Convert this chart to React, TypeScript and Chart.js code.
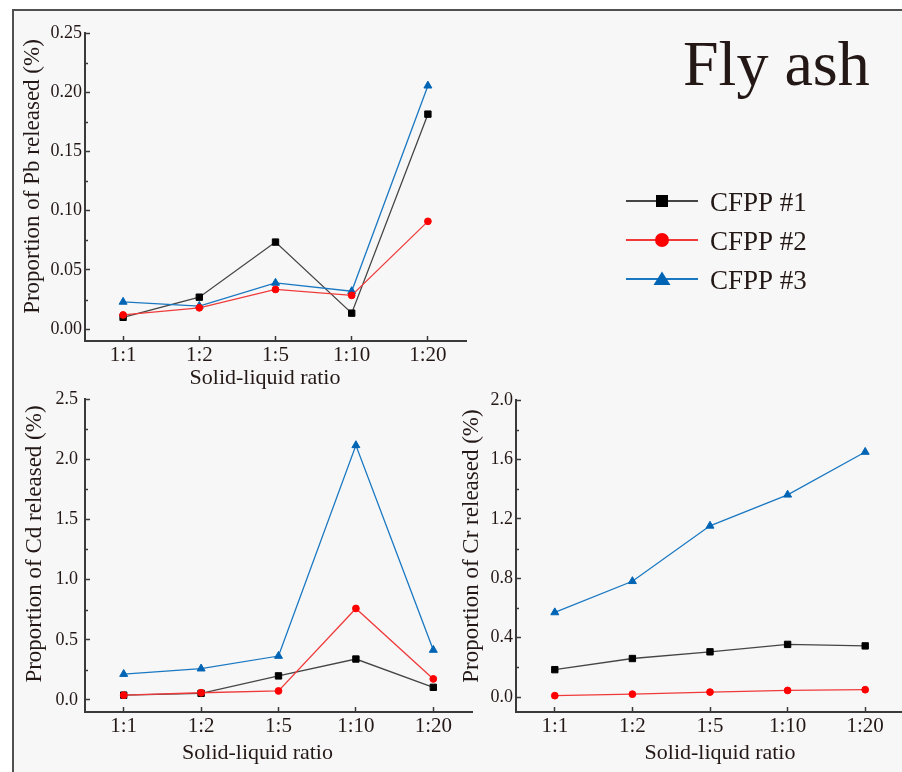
import React, { useEffect, useRef } from "react";
import { Chart, registerables } from "chart.js";

Chart.register(...registerables);

// ---------- data ----------
const ratios = ["1:1", "1:2", "1:5", "1:10", "1:20"];
const seriesNames = ["CFPP #1", "CFPP #2", "CFPP #3"];
const figureTitle = "Fly ash";
const xAxisTitle = "Solid-liquid ratio";

const pbCfpp1 = [0.010, 0.027, 0.0735, 0.0135, 0.1815];
const pbCfpp2 = [0.012, 0.018, 0.0335, 0.0285, 0.091];
const pbCfpp3 = [0.023, 0.0195, 0.039, 0.032, 0.2055];

const cdCfpp1 = [0.04, 0.055, 0.2, 0.34, 0.105];
const cdCfpp2 = [0.04, 0.06, 0.075, 0.76, 0.175];
const cdCfpp3 = [0.215, 0.26, 0.365, 2.115, 0.415];

const crCfpp1 = [0.185, 0.26, 0.305, 0.355, 0.345];
const crCfpp2 = [0.01, 0.02, 0.034, 0.045, 0.05];
const crCfpp3 = [0.57, 0.78, 1.153, 1.362, 1.65];

const pbTicks = [0, 0.05, 0.1, 0.15, 0.2, 0.25];
const pbTickLabels = ["0.00", "0.05", "0.10", "0.15", "0.20", "0.25"];
const pbMinorTicks = [0.025, 0.075, 0.125, 0.175, 0.225];

const cdTicks = [0, 0.5, 1.0, 1.5, 2.0, 2.5];
const cdTickLabels = ["0.0", "0.5", "1.0", "1.5", "2.0", "2.5"];
const cdMinorTicks = [0.25, 0.75, 1.25, 1.75, 2.25];

const crTicks = [0, 0.4, 0.8, 1.2, 1.6, 2.0];
const crTickLabels = ["0.0", "0.4", "0.8", "1.2", "1.6", "2.0"];
const crMinorTicks = [0.2, 0.6, 1.0, 1.4, 1.8];

// ---------- styles ----------
const FONT = "'Liberation Serif', 'Times New Roman', serif";
const TEXT = "#231815";
const AXIS = "#3a3a3a";

const seriesStyles = [
  { line: "#454545", fill: "#000000", pointStyle: "rect", radius: 4.5, order: 2 },
  { line: "#f03a3a", fill: "#ff0000", pointStyle: "circle", radius: 3.4, order: 0 },
  { line: "#1a78c2", fill: "#0064b4", pointStyle: "triangle", radius: 4.6, order: 1 },
];

function minorTicksPlugin(values: number[], len: number) {
  return {
    id: "minorTicks",
    afterDraw(chart: any) {
      const y = chart.scales.y;
      const ctx = chart.ctx;
      ctx.save();
      ctx.strokeStyle = AXIS;
      ctx.lineWidth = 1.5;
      ctx.beginPath();
      values.forEach((v) => {
        const py = Math.round(y.getPixelForValue(v)) + 0.5;
        ctx.moveTo(y.right, py);
        ctx.lineTo(y.right + len, py);
      });
      ctx.stroke();
      ctx.restore();
    },
  };
}

function axisTitlesPlugin(t: {
  yText: string; yBaseX: number; yCenterY: number;
  xText: string; xCenterX: number; xBaseY: number;
}) {
  return {
    id: "axisTitles",
    afterDraw(chart: any) {
      const ctx = chart.ctx;
      ctx.save();
      ctx.fillStyle = TEXT;
      ctx.textBaseline = "alphabetic";
      ctx.textAlign = "center";
      ctx.font = `22px ${FONT}`;
      ctx.fillText(t.xText, t.xCenterX, t.xBaseY);
      ctx.translate(t.yBaseX, t.yCenterY);
      ctx.rotate(-Math.PI / 2);
      ctx.font = `23px ${FONT}`;
      ctx.fillText(t.yText, 0, 0);
      ctx.restore();
    },
  };
}

const decorPlugin = {
  id: "decor",
  afterDraw(chart: any) {
    const ctx = chart.ctx;
    ctx.save();
    ctx.fillStyle = TEXT;
    ctx.textAlign = "left";
    ctx.textBaseline = "alphabetic";
    ctx.font = `64px ${FONT}`;
    ctx.fillText(figureTitle, 683, 85);

    seriesNames.forEach((name, i) => {
      const st = seriesStyles[i];
      const y = 201 + i * 39;
      const mx = 662;
      ctx.strokeStyle = st.line;
      ctx.lineWidth = 2;
      ctx.beginPath();
      ctx.moveTo(626, y);
      ctx.lineTo(698, y);
      ctx.stroke();
      ctx.fillStyle = st.fill;
      ctx.beginPath();
      if (st.pointStyle === "rect") {
        ctx.rect(mx - 6, y - 6, 12, 12);
      } else if (st.pointStyle === "circle") {
        ctx.arc(mx, y, 7, 0, Math.PI * 2);
      } else {
        ctx.moveTo(mx, y - 7.5);
        ctx.lineTo(mx + 8.5, y + 6);
        ctx.lineTo(mx - 8.5, y + 6);
        ctx.closePath();
      }
      ctx.fill();
      ctx.fillStyle = TEXT;
      ctx.font = `27px ${FONT}`;
      ctx.fillText(name, 710, y + 9.5);
    });
    ctx.restore();
  },
};

type PanelCfg = {
  series: number[][];
  yMin: number; yMax: number;
  yTicks: number[]; yTickLabels: string[]; yMinor: number[];
  padding: { left: number; top: number; right: number; bottom: number };
  yWidth: number; xHeight: number; yLabelPad: number;
  titles: { yText: string; yBaseX: number; yCenterY: number; xText: string; xCenterX: number; xBaseY: number };
  extra?: any[];
};

function buildConfig(p: PanelCfg): any {
  return {
    type: "line",
    data: {
      labels: ratios,
      datasets: p.series.map((data, i) => ({
        label: seriesNames[i],
        data,
        borderColor: seriesStyles[i].line,
        backgroundColor: seriesStyles[i].fill,
        pointBackgroundColor: seriesStyles[i].fill,
        pointBorderColor: seriesStyles[i].fill,
        pointBorderWidth: 1,
        pointStyle: seriesStyles[i].pointStyle,
        pointRadius: seriesStyles[i].radius,
        borderWidth: 1.3,
        tension: 0,
        order: seriesStyles[i].order,
        clip: false,
      })),
    },
    options: {
      animation: false,
      responsive: false,
      maintainAspectRatio: false,
      events: [],
      layout: { padding: p.padding, autoPadding: false },
      plugins: { legend: { display: false }, tooltip: { enabled: false }, title: { display: false } },
      scales: {
        x: {
          type: "category",
          offset: true,
          border: { display: true, color: AXIS, width: 2 },
          grid: { display: true, drawOnChartArea: false, drawTicks: true, tickLength: -5, tickColor: AXIS, tickWidth: 1.5, offset: false },
          ticks: { color: TEXT, font: { family: FONT, size: 21 }, padding: 7, autoSkip: false, maxRotation: 0, minRotation: 0 },
          afterFit: (s: any) => {
            s.height = p.xHeight;
            s.paddingLeft = 0; s.paddingRight = 0; s.paddingTop = 0; s.paddingBottom = 0;
          },
        },
        y: {
          type: "linear",
          min: p.yMin,
          max: p.yMax,
          border: { display: true, color: AXIS, width: 2 },
          grid: { display: true, drawOnChartArea: false, drawTicks: true, tickLength: -5, tickColor: AXIS, tickWidth: 1.5 },
          ticks: {
            color: TEXT,
            font: { family: FONT, size: 18 },
            padding: p.yLabelPad,
            callback: (_v: any, idx: number) => p.yTickLabels[idx],
          },
          afterBuildTicks: (s: any) => {
            s.ticks = p.yTicks.map((v) => ({ value: v }));
          },
          afterFit: (s: any) => {
            s.width = p.yWidth;
            s.paddingLeft = 0; s.paddingRight = 0; s.paddingTop = 0; s.paddingBottom = 0;
          },
        },
      },
    },
    plugins: [minorTicksPlugin(p.yMinor, 3), axisTitlesPlugin(p.titles), ...(p.extra || [])],
  };
}

function Panel({ left, top, width, height, cfg }: { left: number; top: number; width: number; height: number; cfg: PanelCfg }) {
  const ref = useRef<HTMLCanvasElement>(null);
  useEffect(() => {
    const chart = new Chart(ref.current as HTMLCanvasElement, buildConfig(cfg));
    return () => chart.destroy();
  }, []);
  return (
    <canvas
      ref={ref}
      width={width}
      height={height}
      style={{ position: "absolute", left, top, width, height, display: "block" }}
    />
  );
}

const pbCfg: PanelCfg = {
  series: [pbCfpp1, pbCfpp2, pbCfpp3],
  yMin: -0.01, yMax: 0.25,
  yTicks: pbTicks, yTickLabels: pbTickLabels, yMinor: pbMinorTicks,
  padding: { left: 12, top: 33, right: 436, bottom: 11 },
  yWidth: 73, xHeight: 40, yLabelPad: 8,
  titles: { yText: "Proportion of Pb released (%)", yBaseX: 39, yCenterY: 176.5, xText: xAxisTitle, xCenterX: 265, xBaseY: 384 },
  extra: [decorPlugin],
};

const cdCfg: PanelCfg = {
  series: [cdCfpp1, cdCfpp2, cdCfpp3],
  yMin: -0.1, yMax: 2.5,
  yTicks: cdTicks, yTickLabels: cdTickLabels, yMinor: cdMinorTicks,
  padding: { left: 12, top: 9, right: 6, bottom: 20 },
  yWidth: 73, xHeight: 40, yLabelPad: 12,
  titles: { yText: "Proportion of Cd released (%)", yBaseX: 40.5, yCenterY: 154, xText: xAxisTitle, xCenterX: 257.5, xBaseY: 369 },
};

const crCfg: PanelCfg = {
  series: [crCfpp1, crCfpp2, crCfpp3],
  yMin: -0.1, yMax: 2.0,
  yTicks: crTicks, yTickLabels: crTickLabels, yMinor: crMinorTicks,
  padding: { left: 3, top: 10, right: 6, bottom: 20 },
  yWidth: 73, xHeight: 40, yLabelPad: 8,
  titles: { yText: "Proportion of Cr released (%)", yBaseX: 38, yCenterY: 156, xText: xAxisTitle, xCenterX: 280, xBaseY: 369 },
};

export default function App() {
  return (
    <div
      style={{
        position: "absolute",
        left: 0,
        top: 0,
        width: 902,
        height: 772,
        overflow: "hidden",
        background: "#ffffff",
      }}
    >
      <div
        style={{
          position: "absolute",
          left: 12,
          top: 9,
          width: 960,
          height: 820,
          borderTop: "2px solid #505050",
          borderLeft: "2px solid #505050",
          background: "#f7f7f7",
        }}
      />
      <Panel left={0} top={0} width={902} height={392} cfg={pbCfg} />
      <Panel left={0} top={390} width={478} height={382} cfg={cdCfg} />
      <Panel left={440} top={390} width={470} height={382} cfg={crCfg} />
    </div>
  );
}
